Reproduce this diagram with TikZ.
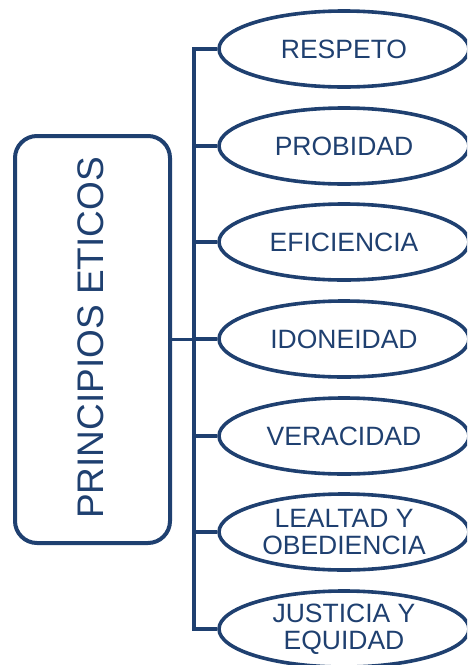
\documentclass[tikz,border=0pt]{standalone}
\usepackage{fontspec}
\setmainfont{Liberation Sans}
\usetikzlibrary{shapes.geometric}
\definecolor{navy}{RGB}{31,64,112}
\begin{document}
\begin{tikzpicture}[x=1pt,y=-1pt,
  item/.style={draw=navy,line width=3.6pt,ellipse,minimum width=250pt,minimum height=76pt,inner sep=0pt,
    text=navy,font=\fontsize{26.5}{27}\selectfont,align=center},
  main/.style={draw=navy,line width=4pt,rounded corners=22pt,minimum width=155pt,minimum height=407pt,inner sep=0pt},
  link/.style={draw=navy,line width=3.6pt}]
\clip (0,0) rectangle (467,665);
\node[main] (pe) at (92.5,339.5) {};
\node[rotate=90,text=navy,font=\fontsize{37}{40}\selectfont] (pet) at (91,338) {PRINCIPIOS ETICOS};
\node[item] (e1) at (344,49) {RESPETO};
\node[item] (e2) at (344,146) {PROBIDAD};
\node[item] (e3) at (344,242) {EFICIENCIA};
\node[item] (e4) at (344,339) {IDONEIDAD};
\node[item] (e5) at (344,436) {VERACIDAD};
\node[item] (e6) at (344,532) {LEALTAD Y\\OBEDIENCIA};
\node[item] (e7) at (344,629) {JUSTICIA Y\\EQUIDAD};
\coordinate (top) at (194,47.2);
\coordinate (bot) at (194,630.8);
\draw[link] (top) -- (bot);
\foreach \i in {1,...,7}{\draw[link] (e\i.west) -- (e\i.west -| top);}
\draw[link] (pe.east) -- (pe.east -| top);
\end{tikzpicture}
\end{document}
